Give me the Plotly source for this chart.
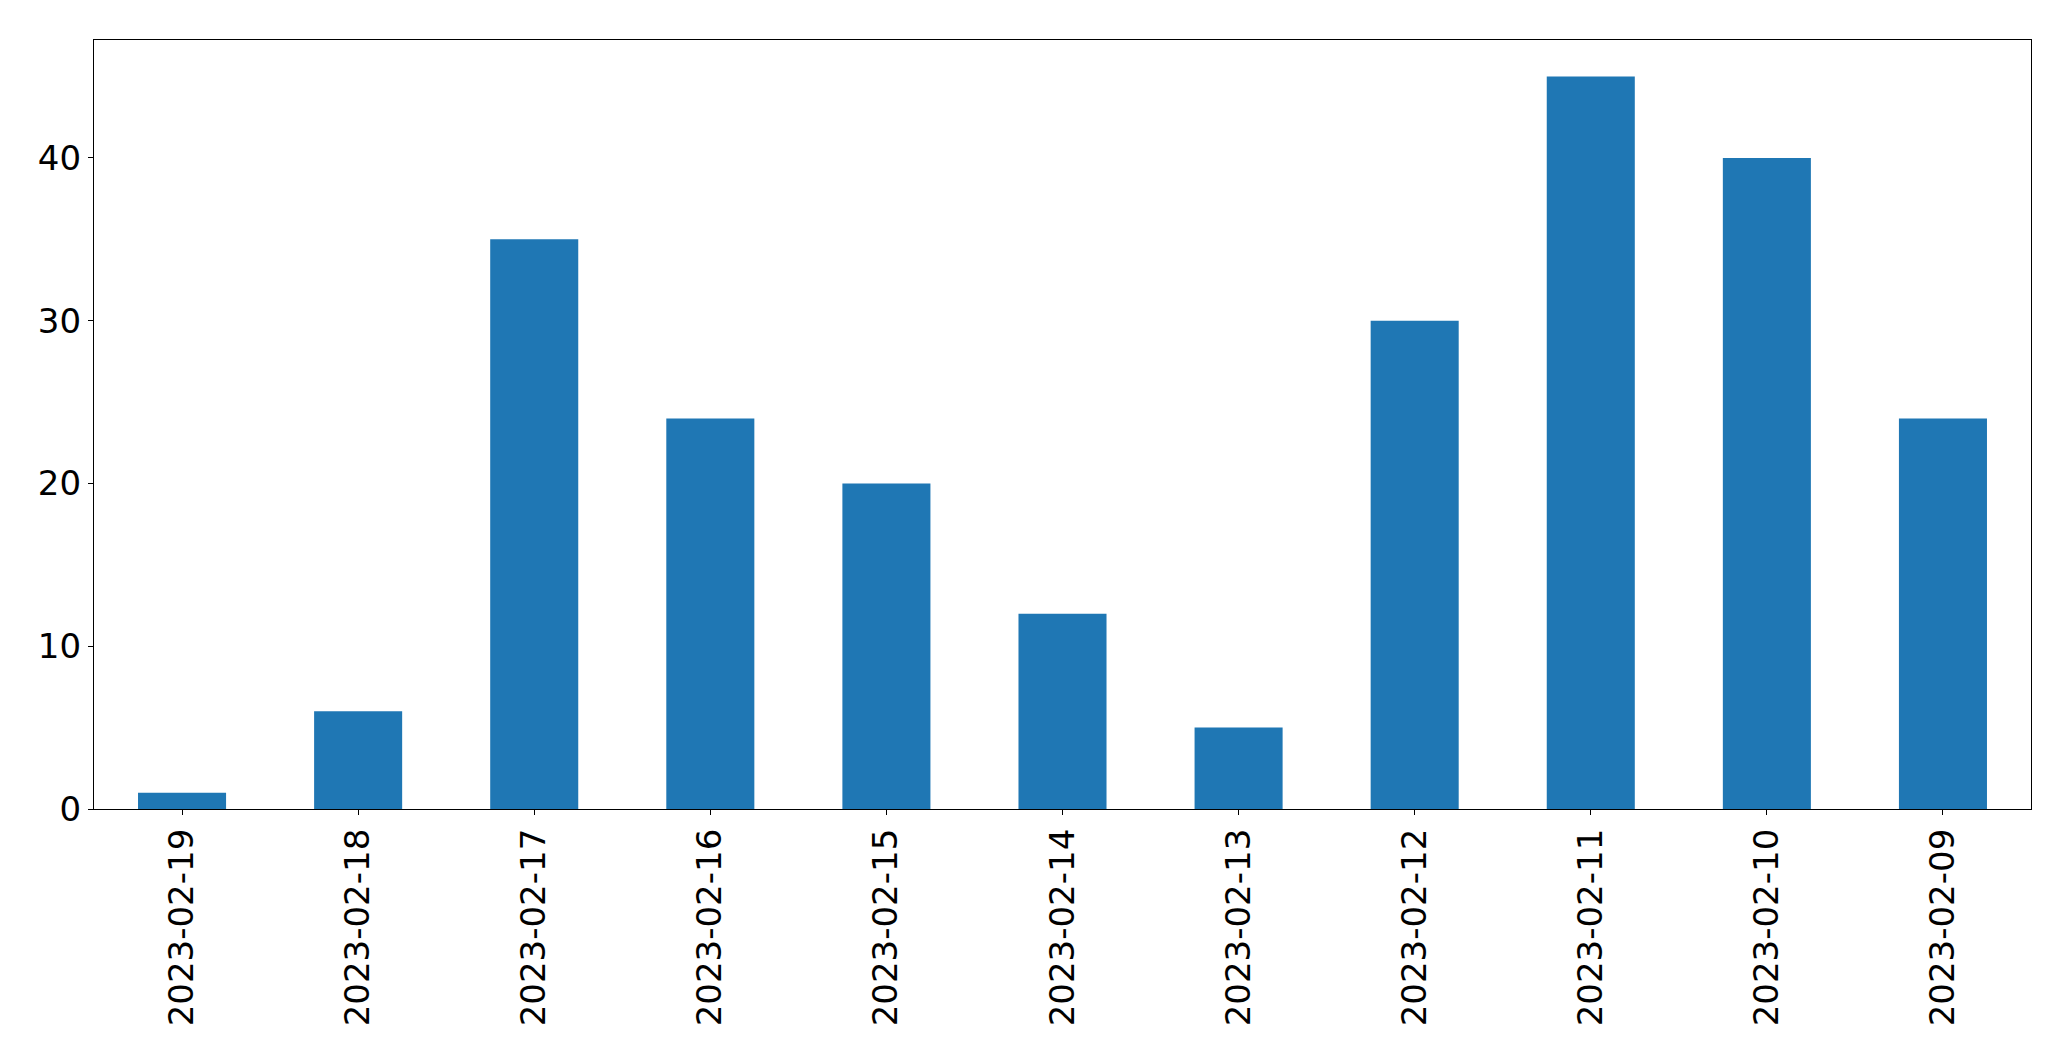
import plotly.graph_objects as go

dates = ["2023-02-19", "2023-02-18", "2023-02-17", "2023-02-16", "2023-02-15",
         "2023-02-14", "2023-02-13", "2023-02-12", "2023-02-11", "2023-02-10", "2023-02-09"]
counts = [1, 6, 35, 24, 20, 12, 5, 30, 45, 40, 24]
y_ticks = [0, 10, 20, 30, 40]

fig = go.Figure(go.Bar(x=dates, y=counts, marker=dict(color="#1f77b4", line=dict(width=0))))

font = dict(family="DejaVu Sans", size=34, color="black")
fig.update_layout(
    width=2071, height=1061,
    margin=dict(l=86, r=48, t=32, b=260, pad=0),
    paper_bgcolor="white", plot_bgcolor="white",
    bargap=0.5, showlegend=False,
    font=font,
)
fig.update_xaxes(
    type="category", range=[-0.5, 10.5], tickangle=-90,
    showline=True, linecolor="black", linewidth=1.3, mirror=True,
    ticks="outside", ticklen=5, tickwidth=1.3, tickcolor="black",
    showgrid=False, zeroline=False, tickfont=font,
)
fig.update_yaxes(
    range=[0, 47.25], tickvals=y_ticks,
    showline=True, linecolor="black", linewidth=1.3, mirror=True,
    ticks="outside", ticklen=5, tickwidth=1.3, tickcolor="black",
    showgrid=False, zeroline=False, tickfont=font,
)
fig.write_html("out.html")
